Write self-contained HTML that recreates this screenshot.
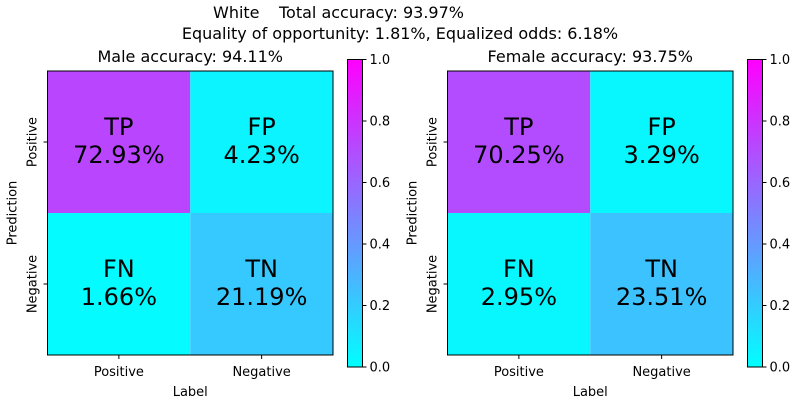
<!DOCTYPE html>
<html><head><meta charset="utf-8"><style>
body{margin:0;background:#fff}
svg{display:block;font-family:"DejaVu Sans","Liberation Sans",sans-serif}
</style></head><body>
<svg id="chart" width="800" height="400" viewBox="0 0 800 400">
<defs><linearGradient id="cool" x1="0" y1="1" x2="0" y2="0"><stop offset="0" stop-color="rgb(0,255,255)"/><stop offset="1" stop-color="rgb(255,0,255)"/></linearGradient></defs>
<text x="213" y="18" font-size="16">White</text>
<text x="279" y="18" font-size="16">Total accuracy: 93.97%</text>
<text x="400" y="39" text-anchor="middle" font-size="16">Equality of opportunity: 1.81%, Equalized odds: 6.18%</text>
</svg>
<script>
const panelTitles = ["Male accuracy: 94.11%", "Female accuracy: 93.75%"];
const cellLabels = ["TP", "FP", "FN", "TN"];
const maleValues = [72.93, 4.23, 1.66, 21.19];
const femaleValues = [70.25, 3.29, 2.95, 23.51];
const tickCats = ["Positive", "Negative"];
const cbTicks = [0, 0.2, 0.4, 0.6, 0.8, 1.0];
const NS = "http://www.w3.org/2000/svg";
const svg = document.getElementById("chart");
function mk(tag, attrs, parent) {
  const e = document.createElementNS(NS, tag);
  for (const k in attrs) e.setAttribute(k, attrs[k]);
  (parent || svg).appendChild(e);
  return e;
}
function cool(v) {
  return `rgb(${Math.round(v*255)},${Math.round((1-v)*255)},255)`;
}
const panels = [maleValues, femaleValues];
panels.forEach((vals, p) => {
  const x0 = 47.5 + p*400, y0 = 71, w = 285.5, h = 284;
  const cw = w/2, ch = h/2;
  const g = mk("g", {});
  
  
  vals.forEach((v, i) => {
    const r = Math.floor(i/2), c = i%2;
    const cx = x0 + c*cw, cy = y0 + r*ch;
    const rect = mk("rect", {x: cx, y: cy, width: cw, height: ch, fill: cool(v/100)}, g);
    
    
    const t1 = mk("text", {x: cx+cw/2, y: cy+ch/2-7, "text-anchor": "middle", "font-size": "24"}, g);
    t1.textContent = cellLabels[i];
    
    
    const t2 = mk("text", {x: cx+cw/2, y: cy+ch/2+21, "text-anchor": "middle", "font-size": "24"}, g);
    t2.textContent = v.toFixed(2) + "%";
    
    
  });
  mk("rect", {x: x0, y: y0, width: w, height: h, fill: "none", stroke: "#000", "stroke-width": 1}, g);
  const tt = mk("text", {x: x0+w/2, y: 62, "text-anchor": "middle", "font-size": "16"}, g);
  tt.textContent = panelTitles[p];
  
  
  tickCats.forEach((c, i) => {
    const tx = x0 + cw*(i+0.5);
    mk("line", {x1: tx, x2: tx, y1: y0+h, y2: y0+h+4, stroke: "#000"}, g);
    const xt = mk("text", {x: tx, y: y0+h+21, "text-anchor": "middle", "font-size": "13"}, g);
    xt.textContent = c;
    
    
    const ty = y0 + ch*(i+0.5);
    mk("line", {x1: x0-4, x2: x0, y1: ty, y2: ty, stroke: "#000"}, g);
    const yt = mk("text", {x: 0, y: 0, "text-anchor": "middle", "font-size": "13", transform: `translate(${x0-11},${ty}) rotate(-90)`}, g);
    yt.textContent = c;
    
    
  });
  const xl = mk("text", {x: x0+w/2, y: 396, "text-anchor": "middle", "font-size": "13"}, g);
  xl.textContent = "Label";
  
  
  const yl = mk("text", {x: 0, y: 0, "text-anchor": "middle", "font-size": "13", transform: `translate(${x0-31},${y0+h/2}) rotate(-90)`}, g);
  yl.textContent = "Prediction";
  
  
  const bx = 347.5 + p*400, by = 59.5, bw = 15, bh = 307.5;
  const cb = mk("rect", {x: bx, y: by, width: bw, height: bh, fill: "url(#cool)", stroke: "#000", "stroke-width": 1}, g);
  
  
  cbTicks.forEach(t => {
    const ty = by + bh*(1-t);
    mk("line", {x1: bx+bw, x2: bx+bw+4, y1: ty, y2: ty, stroke: "#000"}, g);
    const ct = mk("text", {x: bx+bw+7, y: ty+4.5, "font-size": "13"}, g);
    ct.textContent = t.toFixed(1);
    
    
  });
});
</script>
</body></html>
